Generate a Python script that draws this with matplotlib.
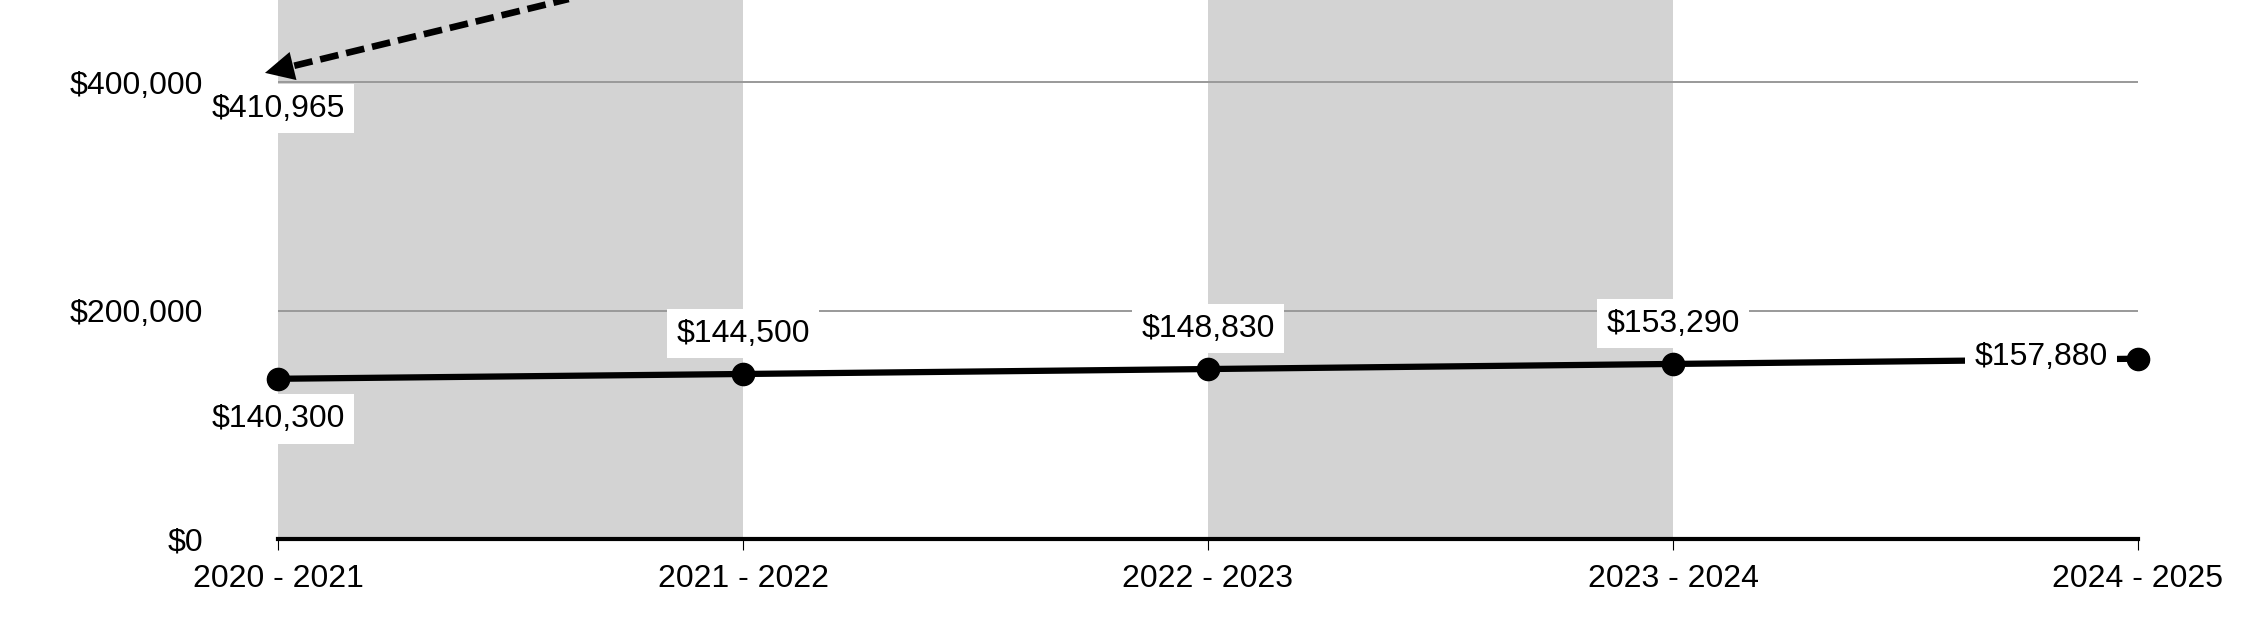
import matplotlib.pyplot as plt
from matplotlib.ticker import FuncFormatter

# -----------------------------
# DATA
# -----------------------------

seasons = ["2020 - 2021", "2021 - 2022", "2022 - 2023", "2023 - 2024", "2024 - 2025"]
cost = [140300, 144500, 148830, 153290, 157880]
cost_labels = ["$140,300", "$144,500", "$148,830", "$153,290", "$157,880"]

# upper series runs off the top of the chart; second value estimated from the slope
upper = [410965, 510000]
upper_labels = ["$410,965"]

y_ticks = [0, 200000, 400000]

# -----------------------------
# FIGURE
# -----------------------------

plt.rcParams['font.family'] = ['Liberation Sans', 'DejaVu Sans']

fig = plt.figure(figsize=(22.5, 6.22), dpi=100)
ax = fig.add_axes([278 / 2250, 83 / 622, (2138 - 278) / 2250, 539 / 622])

x = list(range(len(seasons)))

ax.set_xlim(0, len(seasons) - 1)
ax.set_ylim(0, 472000)

# alternating gray bands
for i in range(0, len(seasons) - 1, 2):
    ax.axvspan(i, i + 1, color='#d3d3d3', lw=0, zorder=0)

# gridlines
for y in y_ticks[1:]:
    ax.axhline(y, color='#999999', lw=1.4, zorder=1)

# -----------------------------
# SERIES
# -----------------------------

ax.plot(x, cost, color='black', lw=4.5, marker='o', ms=16,
        zorder=3, clip_on=False)

# dashed line starts a little after the first point, arrow head fills the gap
slope = upper[1] - upper[0]
gap = 0.035
ax.plot([x[0] + gap, x[1]], [upper[0] + gap * slope, upper[1]],
        color='black', lw=4.8, linestyle=(0, (2.8, 1.2)),
        dash_capstyle='butt', zorder=3)

tip, tail = -0.028, 0.06
ax.annotate('', xy=(x[0] + tip, upper[0] + tip * slope),
            xytext=(x[0] + tail, upper[0] + tail * slope),
            arrowprops=dict(arrowstyle='-|>,head_length=0.8,head_width=0.4',
                            color='black', lw=0, mutation_scale=26,
                            shrinkA=0, shrinkB=0),
            annotation_clip=False, zorder=3.5)

# -----------------------------
# LABELS
# -----------------------------

box = dict(boxstyle='square,pad=0.3', fc='white', ec='none')

for i, (v, lab) in enumerate(zip(cost, cost_labels)):
    if i == 0:
        off, ha = (0, -29), 'center'
    elif i == len(cost) - 1:
        off, ha = (-22, 1), 'right'
    else:
        off, ha = (0, 29), 'center'
    ax.annotate(lab, xy=(x[i], v), xytext=off, textcoords='offset points',
                ha=ha, va='center', fontsize=23, bbox=box, zorder=4)

ax.annotate(upper_labels[0], xy=(x[0], upper[0]), xytext=(0, -28),
            textcoords='offset points', ha='center', va='center',
            fontsize=23, bbox=box, zorder=4)

# -----------------------------
# AXES
# -----------------------------

ax.set_xticks(x)
ax.set_xticklabels(seasons, fontsize=23)
ax.set_yticks(y_ticks)
ax.yaxis.set_major_formatter(FuncFormatter(lambda v, p: f"${v:,.0f}"))

ax.tick_params(axis='y', length=0, pad=54, labelsize=23)
ax.tick_params(axis='x', length=8, width=0.8, color='black', pad=10)

for s in ['left', 'top', 'right']:
    ax.spines[s].set_visible(False)
ax.spines['bottom'].set_linewidth(3)
ax.spines['bottom'].set_color('black')
ax.spines['bottom'].set_zorder(5)

fig.savefig('out.png', dpi=100)
